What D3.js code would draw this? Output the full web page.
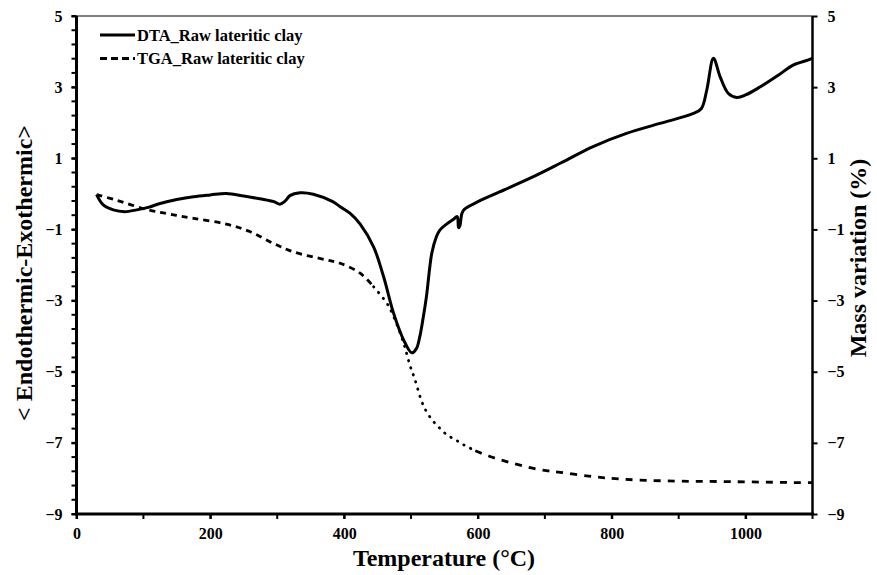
<!DOCTYPE html>
<html><head><meta charset="utf-8">
<script src="https://cdn.jsdelivr.net/npm/d3@7"></script>
<style>body{margin:0;background:#fff}svg{display:block}</style>
</head><body><svg id="c" width="877" height="575"></svg>
<script>
const dtaT = [30,40,55,72,90,107,125,150,175,200,224,250,274,295,304,312,319,334,354,383,394,409,424,444,459,474,489,501,508,513,518,523,531,538,543,553,563,569,571,573,576,580,600,633,678,723,772,822,872,922,934,942,952,962,974,987,1000,1022,1050,1071,1096,1100];
const dtaV = [-0.02,-0.31,-0.45,-0.50,-0.45,-0.38,-0.27,-0.16,-0.08,-0.03,0.01,-0.06,-0.14,-0.22,-0.29,-0.2,-0.05,0.03,-0.01,-0.22,-0.36,-0.55,-0.85,-1.49,-2.33,-3.36,-4.11,-4.47,-4.35,-4.02,-3.5,-2.89,-1.67,-1.20,-1.02,-0.85,-0.72,-0.64,-0.95,-0.9,-0.55,-0.43,-0.22,0.06,0.44,0.86,1.33,1.70,1.98,2.26,2.40,2.92,3.81,3.29,2.83,2.71,2.78,3.01,3.35,3.62,3.78,3.82];
const tgaT = [30,60,107,140,175,224,259,294,324,374,394,424,444,464,474,489,498,506,516,523,533,543,554,567,579,596,616,638,660,683,705,723,772,815,882,977,1091,1100];
const tgaV = [-0.02,-0.18,-0.45,-0.57,-0.69,-0.85,-1.06,-1.39,-1.63,-1.86,-1.95,-2.23,-2.61,-3.08,-3.45,-4.20,-4.80,-5.23,-5.84,-6.12,-6.39,-6.59,-6.78,-6.92,-7.06,-7.22,-7.37,-7.50,-7.61,-7.72,-7.79,-7.83,-7.95,-8.02,-8.07,-8.09,-8.12,-8.12];
const xTicks = [0,200,400,600,800,1000];
const yTicks = [5,3,1,-1,-3,-5,-7,-9];
const seriesNames = ["DTA_Raw lateritic clay","TGA_Raw lateritic clay"];

const FONT = '"Liberation Serif","Times New Roman",serif';
const svg = d3.select("#c");
const x = d3.scaleLinear().domain([0,1100]).range([76.5,812.5]);
const y = d3.scaleLinear().domain([-9,5]).range([514,16]);

// top border
svg.append("line").attr("x1",x(0)).attr("x2",x(1100)).attr("y1",y(5)).attr("y2",y(5)).attr("stroke","#000").attr("stroke-width",1.2);

// minor ticks left
const minorY = d3.range(0,36).map(i=>-9+i*0.4).filter(v=>v<=5.001);
svg.append("g").selectAll("line").data(minorY).join("line")
  .attr("x1",x(0)-5).attr("x2",x(0)).attr("y1",d=>y(d)).attr("y2",d=>y(d)).attr("stroke","#000").attr("stroke-width",2);
// minor ticks bottom
svg.append("g").selectAll("line").data(d3.range(0,1101,100)).join("line")
  .attr("x1",d=>x(d)).attr("x2",d=>x(d)).attr("y1",y(-9)).attr("y2",y(-9)+5).attr("stroke","#000").attr("stroke-width",2);

const xAxis = svg.append("g").attr("transform",`translate(0,${y(-9)})`)
  .call(d3.axisBottom(x).tickValues(xTicks).tickFormat(d3.format("d")).tickSize(5).tickPadding(9));
const yAxisL = svg.append("g").attr("transform",`translate(${x(0)},0)`)
  .call(d3.axisLeft(y).tickValues(yTicks).tickSize(5).tickPadding(9));
const yAxisR = svg.append("g").attr("transform",`translate(${x(1100)},0)`)
  .call(d3.axisRight(y).tickValues(yTicks).tickSize(5).tickPadding(10));
[xAxis,yAxisL,yAxisR].forEach(g=>{
  g.select(".domain").remove();
  g.selectAll(".tick line").attr("stroke-width",2);
  g.selectAll("text").style("font-size","16px").style("font-family",FONT).style("font-weight","bold").style("fill","#000");
});
svg.append("line").attr("x1",x(0)-1.5).attr("x2",x(1100)+1.5).attr("y1",y(-9)).attr("y2",y(-9)).attr("stroke","#000").attr("stroke-width",3);
svg.append("line").attr("x1",x(0)).attr("x2",x(0)).attr("y1",y(5)).attr("y2",y(-9)).attr("stroke","#000").attr("stroke-width",3);
svg.append("line").attr("x1",x(1100)).attr("x2",x(1100)).attr("y1",y(5)).attr("y2",y(-9)).attr("stroke","#000").attr("stroke-width",2.5);

const line = d3.line().x(d=>x(d[0])).y(d=>y(d[1])).curve(d3.curveCatmullRom.alpha(0.5));
const dta = dtaT.map((t,i)=>[t,dtaV[i]]);
const tga = tgaT.map((t,i)=>[t,tgaV[i]]);
// TGA drawn in three stretches: dashed, dotted in the steep drop, dashed again
const parts = [
  {lo:0, hi:444, dash:"6,5", cap:"butt"},
  {lo:444, hi:596, dash:"0.5,7", cap:"round"},
  {lo:596, hi:1100, dash:"7,7", cap:"butt"}
];
parts.forEach(p=>{
  const seg = tga.filter(d=>d[0]>=p.lo && d[0]<=p.hi);
  svg.append("path").attr("d",line(seg)).attr("fill","none").attr("stroke","#000")
    .attr("stroke-width",2.8).attr("stroke-dasharray",p.dash).attr("stroke-linecap",p.cap);
});
svg.append("path").attr("d",line(dta)).attr("fill","none").attr("stroke","#000").attr("stroke-width",3);

// legend
const lg = svg.append("g");
[0,1].forEach(i=>{
  const yy = 35 + i*23.5;
  lg.append("line").attr("x1",100).attr("x2",135).attr("y1",yy).attr("y2",yy).attr("stroke","#000")
    .attr("stroke-width",i?2.8:3).attr("stroke-dasharray",i?"7,4":null);
  lg.append("text").attr("x",137).attr("y",yy+5.5).style("font-size","16.5px").style("font-family",FONT).style("font-weight","bold").text(seriesNames[i]);
});

// titles
function title(t){ return t.style("font-size","24px").style("font-family",FONT).style("font-weight","bold").attr("text-anchor","middle"); }
title(svg.append("text").attr("x",444).attr("y",566)).text("Temperature (°C)");
title(svg.append("text").attr("transform","translate(32,273) rotate(-90)")).text("< Endothermic-Exothermic>");
title(svg.append("text").attr("transform","translate(866,258) rotate(-90)")).text("Mass variation (%)");
</script></body></html>
